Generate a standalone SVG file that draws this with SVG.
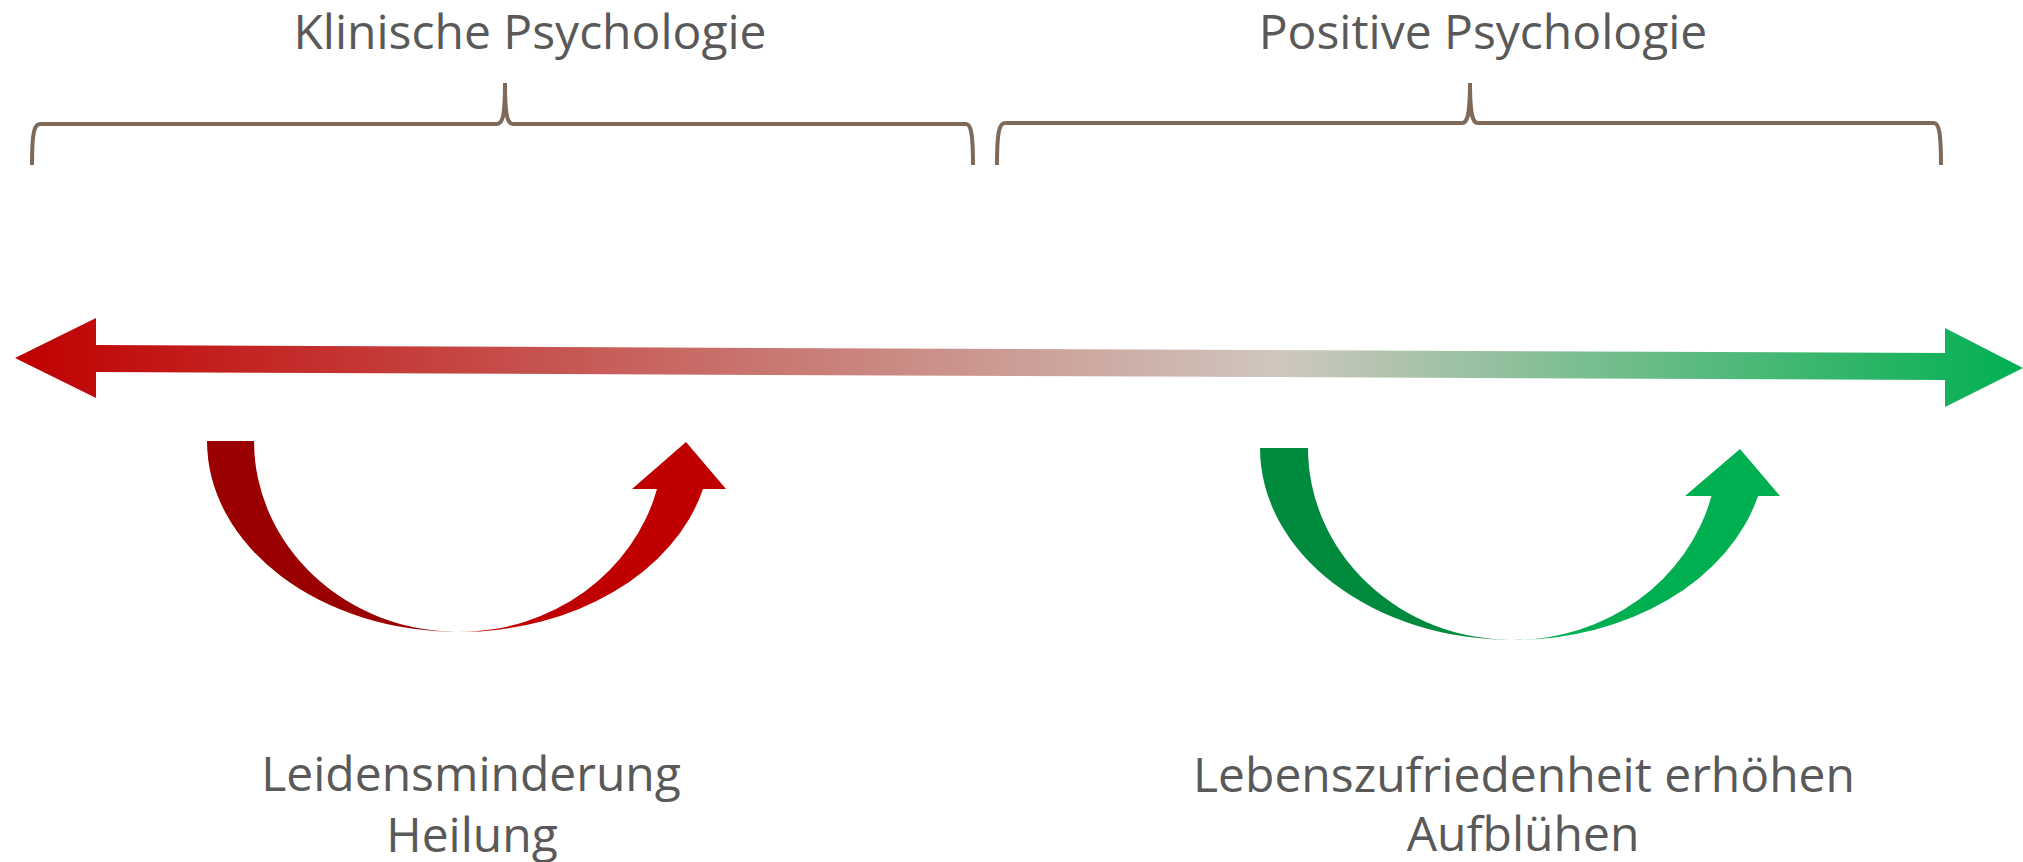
<svg xmlns="http://www.w3.org/2000/svg" width="2023" height="862" viewBox="0 0 2023 862">
  <style>
    .label { font-family: "Open Sans", "Liberation Sans", sans-serif; font-size: 48px; fill: #595959; text-anchor: middle; }
    .brace { fill: none; stroke: #7F6A5A; stroke-width: 4; }
  </style>
  <defs>
    <linearGradient id="scaleGrad" gradientUnits="userSpaceOnUse" x1="15" y1="0" x2="2023" y2="0">
      <stop offset="0" stop-color="#C00000"/>
      <stop offset="0.63" stop-color="#CFC7BE"/>
      <stop offset="1" stop-color="#00B050"/>
    </linearGradient>
  </defs>

  <rect width="2023" height="862" fill="#FFFFFF"/>

  <!-- Titles with braces -->
  <g id="clinical-header">
    <text class="label" x="530" y="49">Klinische Psychologie</text>
    <path class="brace" d="M32,165 C32,134 34,124 40,124 L497,124 C503,124 505,114 505,83 C505,114 507,124 513,124 L966,124 C971,124 973,134 973,165"/>
  </g>
  <g id="positive-header">
    <text class="label" x="1483" y="49">Positive Psychologie</text>
    <path class="brace" d="M997,165 C997,133 999,123 1005,123 L1462,123 C1468,123 1470,113 1470,83 C1470,113 1472,123 1478,123 L1934,123 C1939,123 1941,133 1941,165"/>
  </g>

  <!-- Double-headed scale arrow -->
  <g id="connectors">
    <polygon fill="url(#scaleGrad)" points="15,358 96,318 96,345 1945,353 1945,328 2023,368 1945,407 1945,380 96,372 96,398"/>
  </g>

  <!-- Red U-turn arrow -->
  <g id="clinical-arrow">
    <path fill="#9A0000" d="M207,441 A252,191 0 0 0 459,632 A205,191 0 0 1 254,441 Z"/>
    <path fill="#C00000" d="M459,632 A252,191 0 0 0 703,489 L726,489 L686,442 L632,489 L657,489 A205,191 0 0 1 459,632 Z"/>
  </g>

  <!-- Green U-turn arrow -->
  <g id="positive-arrow">
    <path fill="#008A3E" d="M1260,448 A253,192 0 0 0 1513,640 A205,192 0 0 1 1308,448 Z"/>
    <path fill="#00B050" d="M1513,640 A253,192 0 0 0 1758,496 L1780,496 L1740,449 L1685,496 L1711.5,496 A205,192 0 0 1 1513,640 Z"/>
  </g>

  <!-- Goal labels -->
  <g id="clinical-goals">
    <text class="label" x="471" y="791">Leidensminderung</text>
    <text class="label" x="472" y="852">Heilung</text>
  </g>
  <g id="positive-goals">
    <text class="label" x="1524" y="792">Lebenszufriedenheit erhöhen</text>
    <text class="label" x="1523" y="851">Aufblühen</text>
  </g>
</svg>
